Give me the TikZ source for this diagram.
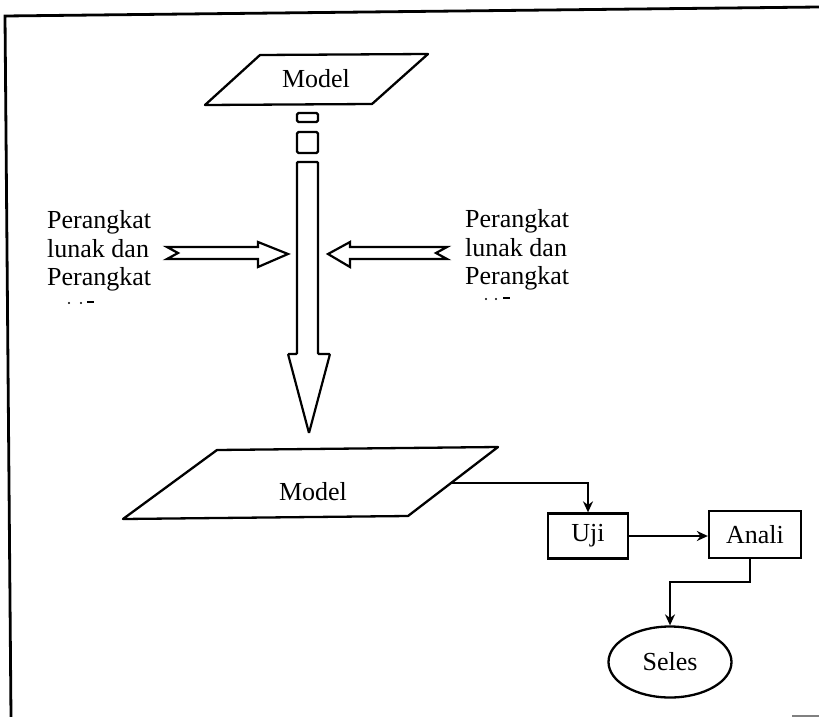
\documentclass[tikz,border=0pt]{standalone}
\usepackage{fontspec}
\setmainfont{Liberation Serif}
\usetikzlibrary{shapes.geometric,arrows.meta}
\begin{document}
\begin{tikzpicture}[x=1pt,y=-1pt,
  ln/.style={line width=2.3pt, line join=round},
  txt/.style={font=\fontsize{26}{28.5}\selectfont, inner sep=0pt},
  procbox/.style={draw, line width=2.3pt, font=\fontsize{26}{28}\selectfont, minimum height=45pt, inner sep=0pt},
  conn/.style={line width=2.1pt, -{Stealth[length=11pt,width=10pt]}},
  fat/.style={draw, line width=2.2pt, line join=miter, fill=white}]
\useasboundingbox (0,0) rectangle (819,717);
% frame
\draw[line width=2.8pt] (819,7) -- (5,16) -- (11,717);
\draw[line width=1.4pt, gray] (792,716) -- (819,716);
% top parallelogram
\draw[ln] (260,55) -- (428,54) -- (372,104) -- (205,105) -- cycle;
\node[txt] (m1) at (316,79) {Model};
% small boxes
\draw[ln, rounded corners=1.5pt] (297,113) rectangle (318,122);
\draw[ln, rounded corners=1.5pt] (297,132) rectangle (318,153);
% big down arrow
\draw[fat, rounded corners=1pt] (297,162) -- (318,162) -- (318,354) -- (330,354) -- (309,433) -- (288,354) -- (297,354) -- cycle;
% left arrow
\draw[fat] (167,247) -- (258,247) -- (258,242) -- (288,254) -- (258,267) -- (258,259) -- (167,259) -- (178,253) -- cycle;
% right arrow
\draw[fat] (447,247) -- (350,247) -- (350,242) -- (328,254) -- (350,267) -- (350,259) -- (447,259) -- (436,253) -- cycle;
% side texts
\node[txt, anchor=west, align=left] (tl) at (47,251) {Perangkat\\lunak dan\\Perangkat};
\node[txt, anchor=west, align=left] (tr) at (465,250) {Perangkat\\lunak dan\\Perangkat};
% cut-off fourth lines
\fill (69,303) circle (1.2pt) (81,303) circle (1.2pt);
\draw[line width=1.5pt] (87,302) -- (94,302);
\fill (486,299) circle (1.2pt) (496,299) circle (1.2pt);
\draw[line width=1.5pt] (503,298) -- (510,298);
% lower parallelogram
\draw[ln] (217,450) -- (498,447) -- (408,516) -- (123,519) -- cycle;
\node[txt] (m2) at (313,492) {Model};
\coordinate (mout) at (451,483);
% process boxes
\node[procbox, minimum width=80pt] (uji) at (588,536) {Uji};
\node[procbox, minimum width=92pt, minimum height=47pt] (anali) at (755,534.5) {Anali};
\node[draw, ellipse, line width=2.3pt, minimum width=123pt, minimum height=71pt, inner sep=0pt, font=\fontsize{26}{28}\selectfont] (seles) at (670,662) {Seles};
% connectors
\draw[conn] (mout) -| (uji.north);
\draw[conn] (uji.east) -- (uji.east -| anali.west);
\coordinate (bend) at (750,582);
\draw[conn] (anali.south -| bend) -- (bend) -| (seles.north);
\end{tikzpicture}
\end{document}
